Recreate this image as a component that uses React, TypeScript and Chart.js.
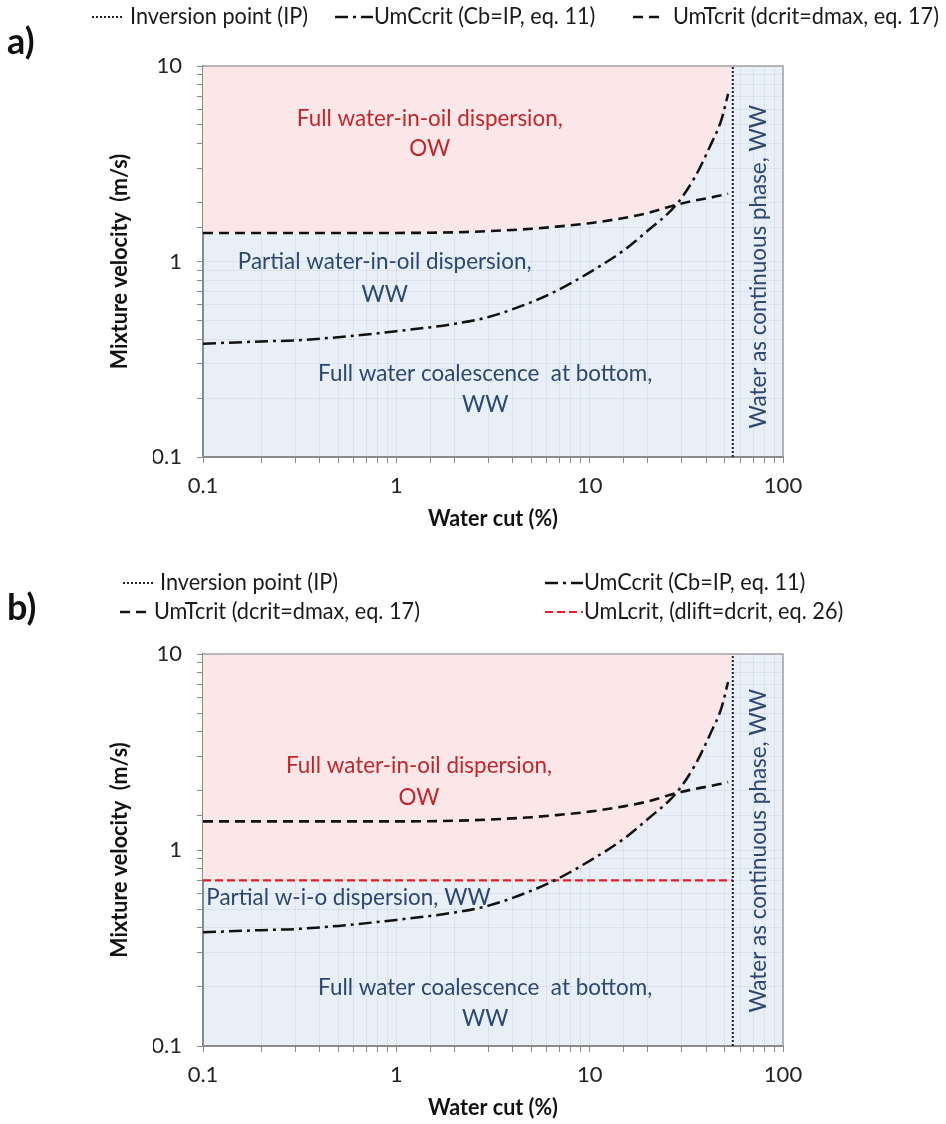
import React, { useEffect, useRef } from 'react';
import { Chart, registerables } from 'chart.js';

Chart.register(...registerables);

// ---------- data ----------
const waterCut = [0.1, 0.2, 0.3, 0.5, 1, 2, 3, 5, 6.4, 10, 15, 20, 28, 35, 42, 48, 52];
const umCcrit = [0.38, 0.39, 0.395, 0.41, 0.44, 0.48, 0.52, 0.62, 0.69, 0.88, 1.14, 1.44, 1.95, 2.7, 3.9, 5.3, 7.2];
const umTcrit = [1.4, 1.4, 1.4, 1.4, 1.4, 1.41, 1.43, 1.47, 1.5, 1.57, 1.67, 1.77, 1.95, 2.05, 2.12, 2.18, 2.22];
const inversionPoint = 55;
const umLcrit = 0.7;
const xRange = [0.1, 100];
const yRange = [0.1, 10];
const xTickLabels = ['0.1', '1', '10', '100'];
const yTickLabels = ['0.1', '1', '10'];

// ---------- styles ----------
const FONT = 'Lato, "Open Sans", "DejaVu Sans", sans-serif';
const RED = '#c0272d';
const NAVY = '#2c4770';
const PINK = '#fbe7e8';
const BLUE = '#e9eff6';
const GRID = 'rgba(110,130,170,0.12)';
const AXIS = '#8a8a8a';
const DASH_T = [10, 6];
const DASH_C = [13, 5, 3, 5];
const DASH_IP = [2, 2];
const DASH_L = [8, 4];

type Label = { text: string; x: number; y: number; color: string; rotate?: boolean; align?: CanvasTextAlign };

const labelsA: Label[] = [
  { text: 'Full water-in-oil dispersion,', x: 1.49, y: 5.39, color: RED },
  { text: 'OW', x: 1.49, y: 3.78, color: RED },
  { text: 'Partial water-in-oil dispersion,', x: 0.87, y: 1.0, color: NAVY },
  { text: 'WW', x: 0.87, y: 0.683, color: NAVY },
  { text: 'Full water coalescence  at bottom,', x: 2.88, y: 0.269, color: NAVY },
  { text: 'WW', x: 2.88, y: 0.186, color: NAVY },
  { text: 'Water as continuous phase, WW', x: 74.3, y: 0.94, color: NAVY, rotate: true },
];

const labelsB: Label[] = [
  { text: 'Full water-in-oil dispersion,', x: 1.31, y: 2.71, color: RED },
  { text: 'OW', x: 1.31, y: 1.86, color: RED },
  { text: 'Partial w-i-o dispersion, WW', x: 0.104, y: 0.575, color: NAVY, align: 'left' },
  { text: 'Full water coalescence  at bottom,', x: 2.88, y: 0.2, color: NAVY },
  { text: 'WW', x: 2.88, y: 0.139, color: NAVY },
  { text: 'Water as continuous phase, WW', x: 74.3, y: 0.99, color: NAVY, rotate: true },
];

type LegendItem = { text: string; x0: number; x1: number; tx: number; y: number; dash: number[]; color: string; width: number };

const legendA: LegendItem[] = [
  { text: 'Inversion point (IP)', x0: 92, x1: 123, tx: 130, y: 17, dash: DASH_IP, color: '#222', width: 2 },
  { text: 'UmCcrit (Cb=IP, eq. 11)', x0: 335, x1: 373, tx: 374, y: 17, dash: DASH_C, color: '#111', width: 2.5 },
  { text: 'UmTcrit (dcrit=dmax, eq. 17)', x0: 633, x1: 662, tx: 673, y: 17, dash: DASH_T, color: '#111', width: 2.6 },
];

const legendB: LegendItem[] = [
  { text: 'Inversion point (IP)', x0: 123, x1: 153, tx: 160, y: 23, dash: DASH_IP, color: '#222', width: 2 },
  { text: 'UmCcrit (Cb=IP, eq. 11)', x0: 545, x1: 583, tx: 584, y: 23, dash: DASH_C, color: '#111', width: 2.5 },
  { text: 'UmTcrit (dcrit=dmax, eq. 17)', x0: 120, x1: 146, tx: 154, y: 52, dash: DASH_T, color: '#111', width: 2.6 },
  { text: 'UmLcrit, (dlift=dcrit, eq. 26)', x0: 545, x1: 583, tx: 584, y: 52, dash: DASH_L, color: '#e31e24', width: 2.2 },
];

function drawText(
  ctx: CanvasRenderingContext2D,
  text: string,
  x: number,
  y: number,
  opts: { size: number; weight?: string; color: string; sx?: number; align?: CanvasTextAlign; rotate?: number }
) {
  ctx.save();
  ctx.font = `${opts.weight || 'normal'} ${opts.size}px ${FONT}`;
  ctx.fillStyle = opts.color;
  ctx.textAlign = opts.align || 'center';
  ctx.textBaseline = 'middle';
  ctx.translate(x, y);
  if (opts.rotate) ctx.rotate(opts.rotate);
  ctx.scale(opts.sx || 1, 1);
  ctx.fillText(text, 0, 0);
  ctx.restore();
}

function fitFactor(ctx: CanvasRenderingContext2D, text: string, size: number, weight: string, target: number) {
  ctx.save();
  ctx.font = `${weight} ${size}px ${FONT}`;
  const w = ctx.measureText(text).width;
  ctx.restore();
  return target / w;
}

function matchLabel(list: string[], v: number) {
  const hit = list.find((l) => Math.abs(Math.log10(parseFloat(l)) - Math.log10(v)) < 1e-6);
  return hit === undefined ? '' : hit;
}

function makeConfig(variant: 'a' | 'b', canvasH: number): any {
  const isB = variant === 'b';
  const padTop = isB ? 94 : 66;
  const plotBottom = isB ? 486 : 457;
  const xAxisH = 50;
  const yAxisW = 50;
  const boundaryY = waterCut.map((_, i) => (isB ? Math.max(umLcrit, umCcrit[i]) : Math.max(umTcrit[i], umCcrit[i])));
  const boundary = [...waterCut.map((x, i) => ({ x, y: boundaryY[i] })), { x: inversionPoint, y: yRange[1] }];

  const datasets: any[] = [
    {
      label: 'UmCcrit',
      data: waterCut.map((x, i) => ({ x, y: umCcrit[i] })),
      borderColor: '#111',
      borderWidth: 2.5,
      borderDash: DASH_C,
      pointRadius: 0,
      fill: false,
      cubicInterpolationMode: 'monotone',
    },
    {
      label: 'UmTcrit',
      data: waterCut.map((x, i) => ({ x, y: umTcrit[i] })),
      borderColor: '#111',
      borderWidth: 2.6,
      borderDash: DASH_T,
      pointRadius: 0,
      fill: false,
      cubicInterpolationMode: 'monotone',
    },
    {
      label: 'Inversion point',
      data: [
        { x: inversionPoint, y: yRange[0] },
        { x: inversionPoint, y: yRange[1] },
      ],
      borderColor: '#222',
      borderWidth: 2,
      borderDash: DASH_IP,
      pointRadius: 0,
      fill: false,
    },
  ];
  if (isB) {
    datasets.push({
      label: 'UmLcrit',
      data: [
        { x: xRange[0], y: umLcrit },
        { x: inversionPoint, y: umLcrit },
      ],
      borderColor: '#e31e24',
      borderWidth: 2.2,
      borderDash: DASH_L,
      pointRadius: 0,
      fill: false,
    });
  }
  datasets.push({
    label: 'OW region',
    data: boundary,
    borderWidth: 0,
    borderColor: 'rgba(0,0,0,0)',
    backgroundColor: PINK,
    pointRadius: 0,
    fill: 'end',
    cubicInterpolationMode: 'monotone',
  });

  const labels = isB ? labelsB : labelsA;
  const legend = isB ? legendB : legendA;

  const overlay = {
    id: 'overlay' + variant,
    beforeDraw(chart: any) {
      const { ctx, chartArea } = chart;
      ctx.save();
      ctx.fillStyle = BLUE;
      ctx.fillRect(chartArea.left, chartArea.top, chartArea.right - chartArea.left, chartArea.bottom - chartArea.top);
      ctx.restore();
    },
    afterDraw(chart: any) {
      const { ctx, chartArea } = chart;
      const xs = chart.scales.x;
      const ys = chart.scales.y;
      ctx.save();
      ctx.strokeStyle = '#a3a3a3';
      ctx.lineWidth = 1.5;
      ctx.beginPath();
      ctx.moveTo(chartArea.left, chartArea.top);
      ctx.lineTo(chartArea.right, chartArea.top);
      ctx.lineTo(chartArea.right, chartArea.bottom);
      ctx.stroke();
      ctx.restore();

      const regionSize = 24;
      const rsx = fitFactor(ctx, 'Full water-in-oil dispersion,', regionSize, 'normal', 266);
      labels.forEach((l) => {
        const px = xs.getPixelForValue(l.x);
        const py = ys.getPixelForValue(l.y);
        drawText(ctx, l.text, px, py, {
          size: regionSize,
          color: l.color,
          sx: rsx,
          align: l.align || 'center',
          rotate: l.rotate ? -Math.PI / 2 : 0,
        });
      });

      const tsx = fitFactor(ctx, 'Water cut (%)', 22, 'bold', 130);
      drawText(ctx, 'Mixture velocity  (m/s)', 120, (chartArea.top + chartArea.bottom) / 2, {
        size: 22,
        weight: 'bold',
        color: '#111',
        sx: tsx,
        rotate: -Math.PI / 2,
      });
      drawText(ctx, 'Water cut (%)', (chartArea.left + chartArea.right) / 2, chartArea.bottom + 62, {
        size: 22,
        weight: 'bold',
        color: '#111',
        sx: tsx,
      });

      const lsx = fitFactor(ctx, 'Inversion point (IP)', 23, 'normal', 178);
      legend.forEach((it) => {
        ctx.save();
        ctx.strokeStyle = it.color;
        ctx.lineWidth = it.width;
        ctx.setLineDash(it.dash);
        ctx.beginPath();
        ctx.moveTo(it.x0, it.y);
        ctx.lineTo(it.x1, it.y);
        ctx.stroke();
        ctx.restore();
        drawText(ctx, it.text, it.tx, it.y, { size: 23, color: '#1a1a1a', sx: lsx, align: 'left' });
      });

      drawText(ctx, isB ? 'b)' : 'a)', 7, isB ? 48 : 42, { size: 36, weight: 'bold', color: '#111', align: 'left' });
    },
  };

  return {
    type: 'line',
    data: { datasets },
    plugins: [overlay],
    options: {
      animation: false,
      responsive: false,
      devicePixelRatio: 1,
      layout: {
        padding: {
          left: 203 - yAxisW,
          right: 946 - 783,
          top: padTop,
          bottom: canvasH - plotBottom - xAxisH,
        },
      },
      plugins: {
        legend: { display: false },
        tooltip: { enabled: false },
        filler: { propagate: false },
      },
      scales: {
        x: {
          type: 'logarithmic',
          min: xRange[0],
          max: xRange[1],
          z: 1,
          grid: { color: GRID, tickColor: AXIS, tickLength: 6, lineWidth: 1 },
          border: { color: AXIS, width: 2 },
          ticks: {
            autoSkip: false,
            maxRotation: 0,
            padding: 10,
            color: '#222',
            font: { family: FONT, size: 22 },
            callback: (v: number) => matchLabel(xTickLabels, v),
          },
          afterFit: (s: any) => {
            s.height = xAxisH;
          },
        },
        y: {
          type: 'logarithmic',
          min: yRange[0],
          max: yRange[1],
          z: 1,
          grid: { color: GRID, tickColor: AXIS, tickLength: 6, lineWidth: 1 },
          border: { color: AXIS, width: 2 },
          ticks: {
            autoSkip: false,
            padding: 15,
            color: '#222',
            font: { family: FONT, size: 22 },
            callback: (v: number) => matchLabel(yTickLabels, v),
          },
          afterFit: (s: any) => {
            s.width = yAxisW;
          },
        },
      },
    },
  };
}

function Panel({ variant, top, height }: { variant: 'a' | 'b'; top: number; height: number }) {
  const ref = useRef<HTMLCanvasElement | null>(null);
  useEffect(() => {
    if (!ref.current) return;
    const chart = new Chart(ref.current, makeConfig(variant, height));
    return () => chart.destroy();
  }, [variant, height]);
  return (
    <canvas
      ref={ref}
      width={946}
      height={height}
      style={{ position: 'absolute', left: 0, top, width: 946, height, display: 'block' }}
    />
  );
}

export default function App() {
  return (
    <div style={{ position: 'absolute', left: 0, top: 0, width: 946, height: 1124, background: '#fff', overflow: 'hidden' }}>
      <Panel variant="a" top={0} height={560} />
      <Panel variant="b" top={560} height={564} />
    </div>
  );
}
